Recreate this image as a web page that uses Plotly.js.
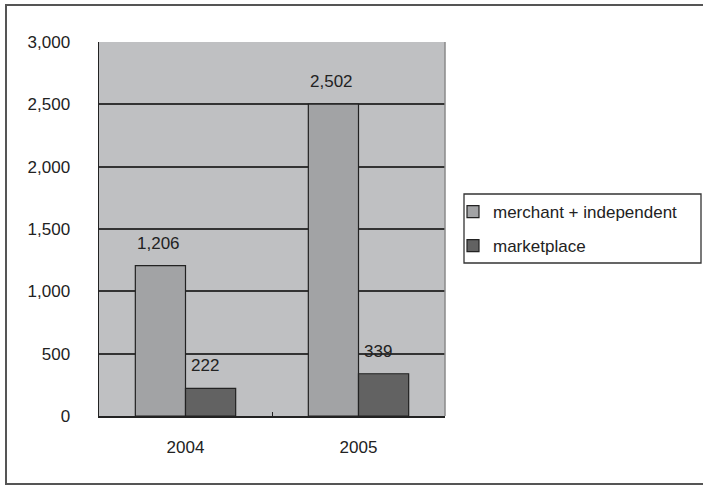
<!DOCTYPE html>
<html>
<head>
<meta charset="utf-8">
<script src="https://cdn.plot.ly/plotly-3.0.1.min.js"></script>
<style>html,body{margin:0;padding:0;background:#fff;}#chart{width:703px;height:485px;}</style>
</head>
<body>
<div id="chart"></div>
<script>
const categories = ["2004", "2005"];
const merchantValues = [1206, 2502];
const marketplaceValues = [222, 339];
const seriesNames = ["merchant + independent", "marketplace"];
const yTickValues = [0, 500, 1000, 1500, 2000, 2500, 3000];

const fnt = {family: "Liberation Sans, Arial, sans-serif", size: 17, color: "#222"};

const traces = [
  {
    type: "bar", name: seriesNames[0], x: categories, y: merchantValues,
    marker: {color: "#a2a3a5", line: {color: "#222", width: 1.2}},
    legendgroup: "a", hoverinfo: "none"
  },
  {
    type: "bar", name: seriesNames[1], x: categories, y: marketplaceValues,
    marker: {color: "#626262", line: {color: "#222", width: 1.2}},
    legendgroup: "b", hoverinfo: "none"
  }
];

const bargap = 0.42;
const barW = (1 - bargap) / 2;
const annotations = [];
[merchantValues, marketplaceValues].forEach((vals, s) => {
  vals.forEach((v, i) => {
    annotations.push({
      x: i + (s === 0 ? -barW / 2 : barW / 2), y: v, xref: "x", yref: "y",
      text: v.toLocaleString("en-US"), showarrow: false,
      yanchor: "bottom", xanchor: "center", yshift: 11, xshift: s === 0 ? -2 : -6,
      font: fnt
    });
  });
});

const L = 99, R = 445, T = 42, B = 416;
const W = R - L, H = B - T;
const px = v => (v - L) / W;
const py = v => (B - v) / H;

const layout = {
  width: 703, height: 485,
  margin: {l: L, r: 703 - R, t: T, b: 485 - B},
  paper_bgcolor: "#ffffff",
  plot_bgcolor: "#bfc0c2",
  font: fnt,
  barmode: "group",
  bargap: bargap,
  bargroupgap: 0,
  showlegend: true,
  legend: {
    x: px(453), y: py(194), xanchor: "left", yanchor: "top",
    bgcolor: "rgba(0,0,0,0)", borderwidth: 0,
    font: fnt, traceorder: "grouped", tracegroupgap: 9,
    itemwidth: 30
  },
  annotations: annotations,
  xaxis: {
    type: "category",
    showline: true, linecolor: "#222", linewidth: 1.5,
    ticks: "inside", tickson: "boundaries", ticklen: 4, tickcolor: "#222",
    tickfont: fnt, showgrid: false, zeroline: false,
    ticklabelstandoff: 15, fixedrange: true
  },
  yaxis: {
    range: [0, 3000], tickvals: yTickValues,
    tickformat: ",d",
    showline: true, linecolor: "#222", linewidth: 1.5,
    showgrid: true, gridcolor: "#333", gridwidth: 2,
    zeroline: false, ticks: "", tickfont: fnt,
    ticklabelstandoff: 24, fixedrange: true
  },
  shapes: [
    {type: "line", xref: "paper", yref: "paper", x0: 1, x1: 1, y0: 0, y1: 1,
     line: {color: "#8a8a8a", width: 1.5}},
    {type: "rect", xref: "paper", yref: "paper",
     x0: px(6), x1: px(712), y0: py(484), y1: py(5),
     line: {color: "#555", width: 2}, fillcolor: "rgba(0,0,0,0)", layer: "below"},
    {type: "rect", xref: "paper", yref: "paper",
     x0: px(464), x1: px(701), y0: py(263), y1: py(194),
     line: {color: "#333", width: 1.3}, fillcolor: "rgba(0,0,0,0)"}
  ]
};

Plotly.newPlot("chart", traces, layout, {displayModeBar: false, staticPlot: true});
</script>
</body>
</html>
